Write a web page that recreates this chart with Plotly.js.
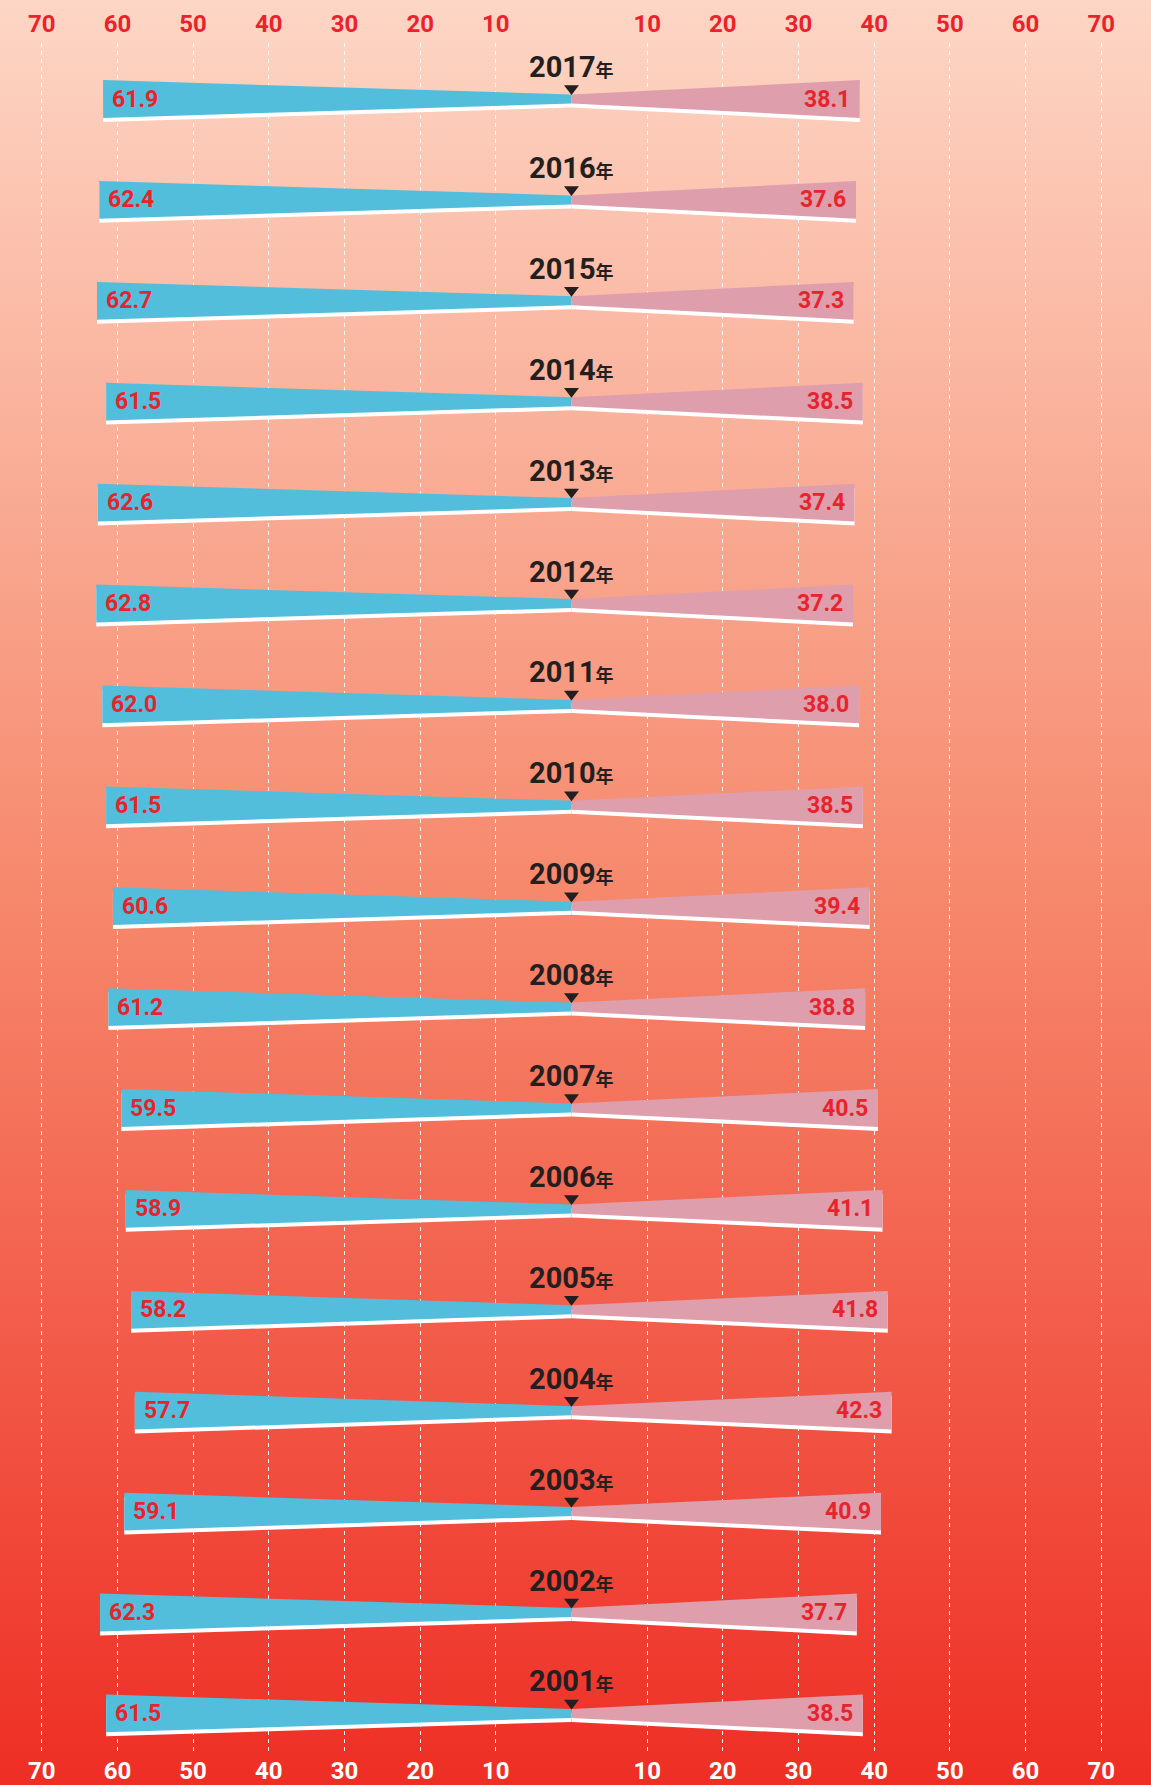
<!DOCTYPE html>
<html>
<head>
<meta charset="utf-8">
<script src="https://cdn.plot.ly/plotly-3.0.1.min.js"></script>
<style>
  html, body { margin: 0; padding: 0; }
  body { width: 1151px; height: 1785px; overflow: hidden;
         background: linear-gradient(to bottom, #fdd6c5 0%, #f6886c 50%, #ee2e25 100%); }
  #chart { width: 1151px; height: 1785px; }
</style>
</head>
<body>
<div id="chart"></div>
<script>
// ---- data ----
const years = [2017, 2016, 2015, 2014, 2013, 2012, 2011, 2010, 2009, 2008, 2007, 2006, 2005, 2004, 2003, 2002, 2001];
const leftValues  = [61.9, 62.4, 62.7, 61.5, 62.6, 62.8, 62.0, 61.5, 60.6, 61.2, 59.5, 58.9, 58.2, 57.7, 59.1, 62.3, 61.5];
const rightValues = [38.1, 37.6, 37.3, 38.5, 37.4, 37.2, 38.0, 38.5, 39.4, 38.8, 40.5, 41.1, 41.8, 42.3, 40.9, 37.7, 38.5];
const tickValues = [-70, -60, -50, -40, -30, -20, -10, 10, 20, 30, 40, 50, 60, 70];
const tickLabels = ['70', '60', '50', '40', '30', '20', '10', '10', '20', '30', '40', '50', '60', '70'];
const yearSuffix = '年';

// ---- styles ----
const ROW_PX = 100.9;
const HALF_END = 18.9 / ROW_PX;
const HALF_CENTER = 4.5 / ROW_PX;
const SHADOW = 4 / ROW_PX;
const BLUE = '#53bedb';
const PINK = '#de9eac';
const RED = '#e8232b';
const DARK = '#231f20';
const NUM_FONT = 'Roboto, "Liberation Sans", Arial, sans-serif';

function wedge(sign, values, offset) {
  const xs = [], ys = [];
  values.forEach((v, i) => {
    const e = sign * v;
    xs.push(0, e, e, 0, 0, null);
    ys.push(i - HALF_CENTER + offset, i - HALF_END + offset, i + HALF_END + offset, i + HALF_CENTER + offset, i - HALF_CENTER + offset, null);
  });
  return {xs, ys};
}

const traces = [];
function polyTrace(w, color) {
  return {type: 'scatter', mode: 'lines', x: w.xs, y: w.ys, fill: 'toself',
          fillcolor: color, line: {width: 0, color: color}, hoverinfo: 'skip', showlegend: false};
}
// white shadows
traces.push(polyTrace(wedge(-1, leftValues, SHADOW), '#ffffff'));
traces.push(polyTrace(wedge(1, rightValues, SHADOW), '#ffffff'));
traces.push(polyTrace(wedge(-1, leftValues, 0), BLUE));
traces.push(polyTrace(wedge(1, rightValues, 0), PINK));
// triangles on top axis
traces.push({type: 'scatter', mode: 'markers', xaxis: 'x2', yaxis: 'y',
  x: years.map(() => 0), y: years.map((_, i) => i - 10.5 / ROW_PX),
  marker: {symbol: 'triangle-down', size: 13, color: DARK, line: {width: 0}}, hoverinfo: 'skip', showlegend: false});

const annotations = [];
years.forEach((yr, i) => {
  annotations.push({x: 0, y: i, xref: 'x', yref: 'y', yshift: 32, showarrow: false,
    xanchor: 'center', yanchor: 'middle',
    text: '<b>' + yr + '</b><span style="font-family:\'Noto Sans CJK SC\';font-size:18px;font-weight:bold">' + yearSuffix + '</span>',
    font: {family: NUM_FONT, size: 29, color: DARK}});
  annotations.push({x: -leftValues[i], y: i, xref: 'x', yref: 'y', xshift: 7, showarrow: false,
    xanchor: 'left', yanchor: 'middle', text: '<b>' + leftValues[i].toFixed(1) + '</b>',
    font: {family: NUM_FONT, size: 23, color: RED}});
  annotations.push({x: rightValues[i], y: i, xref: 'x', yref: 'y', xshift: -8, showarrow: false,
    xanchor: 'right', yanchor: 'middle', text: '<b>' + rightValues[i].toFixed(1) + '</b>',
    font: {family: NUM_FONT, size: 23, color: RED}});
});

const yTop = (43 - 99) / ROW_PX;
const yBottom = (1753 - 99) / ROW_PX;

const layout = {
  width: 1151, height: 1785,
  margin: {l: 0, r: 8, t: 43, b: 32, pad: 0},
  paper_bgcolor: 'rgba(0,0,0,0)', plot_bgcolor: 'rgba(0,0,0,0)',
  showlegend: false,
  xaxis: {range: [-75.52, 75.52], tickmode: 'array', tickvals: tickValues, ticktext: tickLabels,
    showgrid: true, gridcolor: 'rgba(255,255,255,0.9)', gridwidth: 1, griddash: '4px,4px',
    zeroline: false, showline: false, ticks: '', ticklabelstandoff: 1,
    tickfont: {family: NUM_FONT, size: 24, color: '#ffffff', weight: 'bold'}, fixedrange: true},
  xaxis2: {overlaying: 'x', side: 'top', matches: 'x', range: [-75.52, 75.52], tickmode: 'array',
    tickvals: tickValues, ticktext: tickLabels, showgrid: false, zeroline: false, showline: false,
    ticks: '', ticklabelstandoff: 5, tickfont: {family: NUM_FONT, size: 24, color: RED, weight: 'bold'}},
  yaxis: {range: [yBottom, yTop], showgrid: false, zeroline: false, showticklabels: false, showline: false, ticks: ''},
  annotations: annotations
};

Plotly.newPlot('chart', traces, layout, {staticPlot: true, displayModeBar: false});
</script>
</body>
</html>
